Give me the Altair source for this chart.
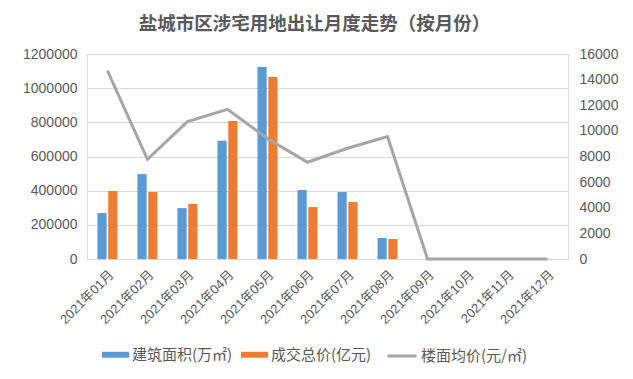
import altair as alt
import pandas as pd

months = ["2021年01月", "2021年02月", "2021年03月", "2021年04月", "2021年05月", "2021年06月",
          "2021年07月", "2021年08月", "2021年09月", "2021年10月", "2021年11月", "2021年12月"]
area = [269000, 497000, 298000, 692000, 1124000, 404000, 392000, 123000, 0, 0, 0, 0]
total = [398000, 392000, 322000, 808000, 1065000, 304000, 334000, 117000, 0, 0, 0, 0]
price = [14700, 7780, 10720, 11680, 9400, 7550, 8640, 9550, 0, 0, 0, 0]

s_area = "建筑面积(万㎡)"
s_total = "成交总价(亿元)"
s_price = "楼面均价(元/㎡)"
bar_colors = ["#5B9BD5", "#ED7D31"]
line_color = "#A5A5A5"

bar_df = pd.DataFrame(
    [{"month": m, "series": s_area, "value": v} for m, v in zip(months, area)]
    + [{"month": m, "series": s_total, "value": v} for m, v in zip(months, total)]
)
line_df = pd.DataFrame({"month": months, "price": price, "series": [s_price] * len(months)})

FONT = "Liberation Sans, Noto Sans CJK SC, sans-serif"
LFONT = "Noto Sans CJK SC, sans-serif"
TXT = "#595959"
GRID = "#D9D9D9"

rect_path = "M-1,-0.22H1V0.22H-1Z"
line_path = "M-1,0H1"

bar_legend = alt.Legend(
    orient="none", legendX=15, legendY=287, direction="horizontal", title=None,
    symbolType=rect_path, symbolSize=729, symbolStrokeWidth=0, symbolOpacity=1,
    labelFontSize=15, labelColor=TXT, labelFont=LFONT, columnPadding=8, labelOffset=3,
)
line_legend = alt.Legend(
    orient="none", legendX=299, legendY=286, direction="horizontal", title=None,
    symbolType=line_path, symbolSize=841, symbolStrokeWidth=3, symbolOpacity=1,
    labelFontSize=15, labelColor=TXT, labelFont=LFONT, labelOffset=3,
)

x_enc = alt.X("month:N", sort=months, title=None,
              scale=alt.Scale(type="band", paddingInner=0.5, paddingOuter=0.26),
              axis=alt.Axis(labelAngle=-45, labelAlign="right", labelBaseline="top",
                            labelFontSize=13, labelColor=TXT, labelFont=FONT,
                            labelPadding=9, ticks=False, domainColor=GRID, grid=False))

bars = alt.Chart(bar_df).mark_bar().encode(
    x=x_enc,
    xOffset=alt.XOffset("series:N", sort=[s_area, s_total],
                        scale=alt.Scale(paddingInner=0.15)),
    y=alt.Y("value:Q", title=None,
            scale=alt.Scale(domain=[0, 1200000], nice=False),
            axis=alt.Axis(values=[0, 200000, 400000, 600000, 800000, 1000000, 1200000],
                          format="d", grid=True, gridColor=GRID, domain=False, ticks=False,
                          labelFontSize=14, labelColor=TXT, labelFont=FONT, labelPadding=10)),
    color=alt.Color("series:N", sort=[s_area, s_total],
                    scale=alt.Scale(domain=[s_area, s_total], range=bar_colors),
                    legend=bar_legend),
)

line = alt.Chart(line_df).mark_line(strokeWidth=3).encode(
    x=alt.X("month:N", sort=months),
    y=alt.Y("price:Q", title=None,
            scale=alt.Scale(domain=[0, 16000], nice=False),
            axis=alt.Axis(orient="right", values=list(range(0, 16001, 2000)), format="d",
                          grid=False, domain=False, ticks=False,
                          labelFontSize=14, labelColor=TXT, labelFont=FONT, labelPadding=11)),
    color=alt.Color("series:N", scale=alt.Scale(domain=[s_price], range=[line_color]),
                    legend=line_legend),
)

chart = alt.layer(bars, line).resolve_scale(y="independent", color="independent").properties(
    width=481, height=205,
    autosize=alt.AutoSizeParams(type="none"),
    padding={"left": 79, "top": 46, "right": 50, "bottom": 108},
    title=alt.TitleParams("盐城市区涉宅用地出让月度走势（按月份）", fontSize=18.5, fontWeight="bold",
                          color=TXT, font=LFONT, anchor="middle", dx=-13, offset=14),
).configure_view(stroke=None).configure(background="white")

chart.save("out.html", embed_options={"renderer": "svg", "actions": False})
